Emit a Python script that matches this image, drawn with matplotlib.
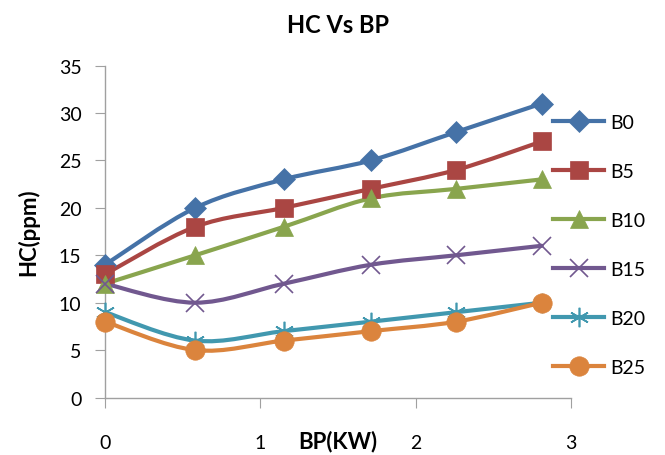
import numpy as np
import matplotlib
matplotlib.use("Agg")
import matplotlib.pyplot as plt
from matplotlib.path import Path
from matplotlib.patches import PathPatch

plt.rcParams['font.family'] = ['Lato', 'DejaVu Sans']

# data
bp = [0, 0.58, 1.15, 1.71, 2.26, 2.81]
series_names = ['B0', 'B5', 'B10', 'B15', 'B20', 'B25']
hc_b0 = [14, 20, 23, 25, 28, 31]
hc_b5 = [13, 18, 20, 22, 24, 27]
hc_b10 = [12, 15, 18, 21, 22, 23]
hc_b15 = [12, 10, 12, 14, 15, 16]
hc_b20 = [9, 6, 7, 8, 9, 10]
hc_b25 = [8, 5, 6, 7, 8, 10]

colors = ['#4572A7', '#AA4643', '#89A54E', '#71588F', '#4198AF', '#DB843D']
markers = ['D', 's', '^', 'x', (6, 2, 0), 'o']
msizes = [11, 13, 13, 13, 14, 14]


def smooth_path(x, y):
    # excel-like smoothed line: cubic bezier segments through the points
    x = np.asarray(x, float)
    y = np.asarray(y, float)
    n = len(x)
    verts = [(x[0], y[0])]
    codes = [Path.MOVETO]
    for i in range(n - 1):
        i0 = max(i - 1, 0)
        i3 = min(i + 2, n - 1)
        c1 = (x[i] + (x[i + 1] - x[i0]) / 6, y[i] + (y[i + 1] - y[i0]) / 6)
        c2 = (x[i + 1] - (x[i3] - x[i]) / 6, y[i + 1] - (y[i3] - y[i]) / 6)
        verts += [c1, c2, (x[i + 1], y[i + 1])]
        codes += [Path.CURVE4] * 3
    return Path(verts, codes)


fig = plt.figure(figsize=(6.65, 4.56), dpi=100)
ax = fig.add_axes([0.158, 0.126, 0.701, 0.728])

all_hc = [hc_b0, hc_b5, hc_b10, hc_b15, hc_b20, hc_b25]
handles = []
for name, hc, c, m, ms in zip(series_names, all_hc, colors, markers, msizes):
    ax.add_patch(PathPatch(smooth_path(bp, hc), facecolor='none', edgecolor=c,
                           lw=3, capstyle='round', joinstyle='round', zorder=2))
    thin = m in ('x', (6, 2, 0))
    ax.plot(bp, hc, linestyle='none', marker=m, markersize=ms, color=c,
            markeredgewidth=1.2 if thin else 0.5, zorder=3, clip_on=False)
    handles.append(plt.Line2D([], [], color=c, lw=3, marker=m, markersize=ms,
                              markeredgewidth=1.2 if thin else 0.5))

ax.set_xlim(0, 3)
ax.set_ylim(0, 35)
ax.set_xticks([0, 1, 2, 3])
ax.set_yticks(range(0, 36, 5))
for s in ['top', 'right']:
    ax.spines[s].set_visible(False)
for s in ['left', 'bottom']:
    ax.spines[s].set_color('#A0A0A0')
    ax.spines[s].set_linewidth(1)
ax.tick_params(axis='y', direction='out', length=7, color='#A0A0A0',
               labelsize=14, pad=10)
ax.tick_params(axis='x', direction='out', length=7, color='#A0A0A0',
               labelsize=14, pad=19)

ax.set_title('HC Vs BP', fontsize=17, fontweight='bold', pad=24)
ax.set_xlabel('BP(KW)', fontsize=16, fontweight='bold', labelpad=-15)
ax.set_ylabel('HC(ppm)', fontsize=16, fontweight='bold', labelpad=14)

fig.legend(handles, series_names, loc='upper left',
           bbox_to_anchor=(0.806, 0.787), frameon=False, fontsize=14,
           handlelength=2.6, labelspacing=1.65, handletextpad=0.3)

fig.savefig('out.png', dpi=100)
